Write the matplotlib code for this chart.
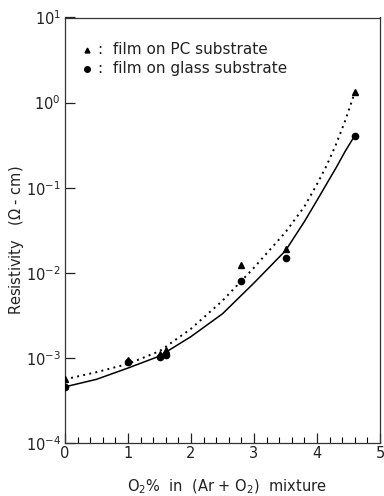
import matplotlib.pyplot as plt
import numpy as np

# measured resistivity (ohm-cm) vs O2 fraction in the sputtering gas
x_pc = [0.0, 1.0, 1.5, 1.6, 2.8, 3.5, 4.6]
rho_pc = [5.6e-4, 9.5e-4, 1.1e-3, 1.24e-3, 1.24e-2, 1.9e-2, 1.32]
x_glass = [0.0, 1.0, 1.5, 1.6, 2.8, 3.5, 4.6]
rho_glass = [4.6e-4, 9.0e-4, 1.03e-3, 1.07e-3, 8.0e-3, 1.51e-2, 0.41]

# fitted trend lines
x_fit = [0.0, 0.5, 1.0, 1.5, 2.0, 2.5, 3.0, 3.5, 3.8, 4.0, 4.15, 4.3, 4.45, 4.6]
fit_pc = [5.6e-4, 6.8e-4, 8.5e-4, 1.2e-3, 2.2e-3, 4.7e-3, 1.15e-2, 3.0e-2,
          6.0e-2, 0.11, 0.18, 0.32, 0.62, 1.32]
fit_glass = [4.57e-4, 5.6e-4, 7.6e-4, 1.05e-3, 1.78e-3, 3.3e-3, 7.6e-3, 1.82e-2,
             4.0e-2, 7.1e-2, 0.11, 0.17, 0.27, 0.41]

x_ticks = [0, 1, 2, 3, 4, 5]
y_ticks = [1e-4, 1e-3, 1e-2, 1e-1, 1e0, 1e1]
y_labels = ['$10^{-4}$', '$10^{-3}$', '$10^{-2}$', '$10^{-1}$', '$10^{0}$', '$10^{1}$']

plt.rcParams['font.family'] = ['DejaVu Sans']
plt.rcParams['mathtext.fontset'] = 'dejavusans'
ink = '#222222'

fig = plt.figure(figsize=(3.84, 4.96), dpi=100)
ax = fig.add_axes([65 / 384, 1 - 443 / 496, 315 / 384, 425.5 / 496])

ax.plot(x_fit, fit_pc, color='black', lw=1.4, linestyle=(0, (1, 2.2)))
ax.plot(x_fit, fit_glass, color='black', lw=1.1)
ax.plot(x_pc, rho_pc, '^', color='black', ms=4, zorder=3)
ax.plot(x_glass, rho_glass, 'o', color='black', ms=4.5, zorder=3)

ax.set_yscale('log')
ax.set_xlim(0, 5)
ax.set_ylim(1e-4, 1e1)
ax.set_xticks(x_ticks)
ax.set_xticks(np.arange(0, 5.01, 0.2), minor=True)
ax.set_yticks(y_ticks)
ax.set_yticklabels(y_labels)
ax.yaxis.set_minor_locator(plt.NullLocator())
ax.tick_params(axis='both', which='major', direction='in', length=7, width=0.9,
               labelsize=10.5, colors=ink)
ax.tick_params(axis='x', which='minor', direction='in', length=4, width=0.8)
ax.tick_params(axis='x', pad=2)
ax.tick_params(axis='y', pad=3)
for s in ax.spines.values():
    s.set_color('#333333')
    s.set_linewidth(0.9)

# axis titles
fig.text(227 / 384, 1 - 487 / 496, 'O$_2$%  in  (Ar + O$_2$)  mixture',
         fontsize=10.5, color=ink, ha='center', va='center')
fig.text(17 / 384, 1 - 240 / 496, 'Resistivity   ($\\Omega$ - cm)',
         fontsize=10.5, color=ink, ha='center', va='center', rotation=90)

# in-plot key
ax.plot([0.35], [10 ** 0.62], '^', color='black', ms=3.5, clip_on=False)
ax.text(0.52, 10 ** 0.62, ':  film on PC substrate', fontsize=11, va='center', color=ink)
ax.plot([0.35], [10 ** 0.4], 'o', color='black', ms=4, clip_on=False)
ax.text(0.52, 10 ** 0.4, ':  film on glass substrate', fontsize=11, va='center', color=ink)

fig.savefig('out.png', dpi=100)
